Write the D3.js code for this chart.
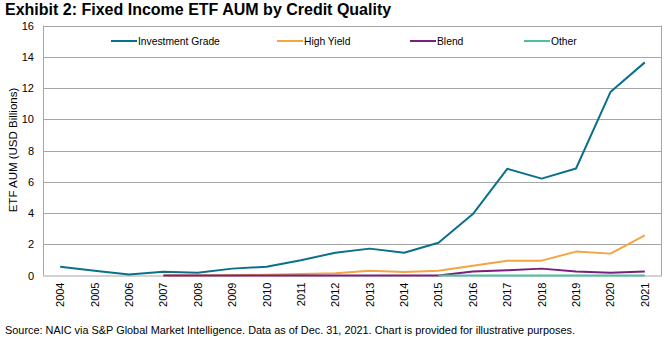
<!DOCTYPE html>
<html>
<head>
<meta charset="utf-8">
<script src="https://cdn.jsdelivr.net/npm/d3@7"></script>
<style>
  html, body { margin: 0; padding: 0; background: #fff; }
  svg { display: block; font-family: "Liberation Sans", Arial, sans-serif; }
</style>
</head>
<body>
<svg id="chart" width="670" height="345"></svg>
<script>
const years = ["2004","2005","2006","2007","2008","2009","2010","2011","2012","2013","2014","2015","2016","2017","2018","2019","2020","2021"];
const investmentGrade = [0.56,0.31,0.06,0.24,0.18,0.44,0.56,0.97,1.46,1.72,1.46,2.1,3.93,6.83,6.2,6.85,11.74,13.64];
const highYield = [null,null,null,0.0,0.0,0.02,0.05,0.1,0.15,0.3,0.22,0.3,0.63,0.95,0.95,1.53,1.4,2.57];
const blend = [null,null,null,0.0,0.0,0.0,0.0,0.0,0.0,0.0,0.0,0.0,0.25,0.33,0.44,0.25,0.18,0.25];
const other = [null,null,null,null,null,null,null,null,null,null,null,0.0,0.0,0.0,0.0,0.0,0.0,0.0];
const yTicks = [0,2,4,6,8,10,12,14,16];
const seriesNames = ["Investment Grade","High Yield","Blend","Other"];
const seriesColors = ["#0a7189","#f4a443","#7a1f7e","#4fbf9c"];

const svg = d3.select("#chart");
const m = {left: 43, right: 662, top: 25.5, bottom: 275.5};

const x = d3.scaleBand().domain(years).range([m.left, m.right]);
const y = d3.scaleLinear().domain([0,16]).range([m.bottom, m.top]);

// title
svg.append("text").attr("x", 5).attr("y", 15).attr("font-size", 16).attr("font-weight", "bold")
  .attr("fill", "#000").text("Exhibit 2: Fixed Income ETF AUM by Credit Quality");

// gridlines
svg.append("g").selectAll("line").data(yTicks.filter(d => d > 0)).join("line")
  .attr("x1", m.left).attr("x2", m.right)
  .attr("y1", d => Math.round(y(d)) + 0.5).attr("y2", d => Math.round(y(d)) + 0.5)
  .attr("stroke", "#a6a6a6").attr("stroke-width", 1);

// box sides
svg.append("line").attr("x1", m.left + 0.5).attr("x2", m.left + 0.5).attr("y1", m.top).attr("y2", m.bottom)
  .attr("stroke", "#a6a6a6");
svg.append("line").attr("x1", m.right - 0.5).attr("x2", m.right - 0.5).attr("y1", m.top).attr("y2", m.bottom)
  .attr("stroke", "#a6a6a6");

// y axis
const yAxis = svg.append("g").attr("transform", `translate(${m.left},0)`)
  .call(d3.axisLeft(y).tickValues(yTicks).tickSize(0).tickPadding(9).tickFormat(d3.format("d")));
yAxis.select(".domain").remove();
yAxis.selectAll("text").attr("font-size", 11).attr("fill", "#000").attr("font-family", "Liberation Sans, Arial, sans-serif");

// x axis
const xAxis = svg.append("g").attr("transform", `translate(0,${m.bottom})`)
  .call(d3.axisBottom(x).tickSize(0).tickPadding(0));
xAxis.select(".domain").attr("stroke", "#a6a6a6").attr("d", `M${m.left},0.5H${m.right}`);
xAxis.selectAll("text")
  .attr("font-size", 11).attr("fill", "#000").attr("font-family", "Liberation Sans, Arial, sans-serif")
  .attr("text-anchor", "end").attr("dy", null)
  .attr("transform", "translate(4,7) rotate(-90)");

// y axis title
svg.append("text").attr("transform", "translate(17,150) rotate(-90)")
  .attr("text-anchor", "middle").attr("font-size", 11.5).attr("fill", "#000")
  .text("ETF AUM (USD Billions)");

// lines
const line = d3.line()
  .defined(d => d.v !== null)
  .x(d => x(d.year) + x.bandwidth() / 2)
  .y(d => y(d.v));

const allSeries = [investmentGrade, highYield, blend, other];
allSeries.forEach((vals, i) => {
  const data = years.map((yr, j) => ({year: yr, v: vals[j]}));
  svg.append("path").datum(data)
    .attr("fill", "none").attr("stroke", seriesColors[i]).attr("stroke-width", 2)
    .attr("stroke-linejoin", "round")
    .attr("d", line);
});

// legend
const legendX = [111, 277, 410, 524];
const lg = svg.append("g");
seriesNames.forEach((name, i) => {
  lg.append("line").attr("x1", legendX[i]).attr("x2", legendX[i] + 26)
    .attr("y1", 41).attr("y2", 41).attr("stroke", seriesColors[i]).attr("stroke-width", 2);
  lg.append("text").attr("x", legendX[i] + 27).attr("y", 45)
    .attr("font-size", 10.3).attr("fill", "#000").text(name);
});

// source
svg.append("text").attr("x", 5).attr("y", 334).attr("font-size", 10.9).attr("fill", "#000")
  .text("Source: NAIC via S&P Global Market Intelligence. Data as of Dec. 31, 2021. Chart is provided for illustrative purposes.");
</script>
</body>
</html>
